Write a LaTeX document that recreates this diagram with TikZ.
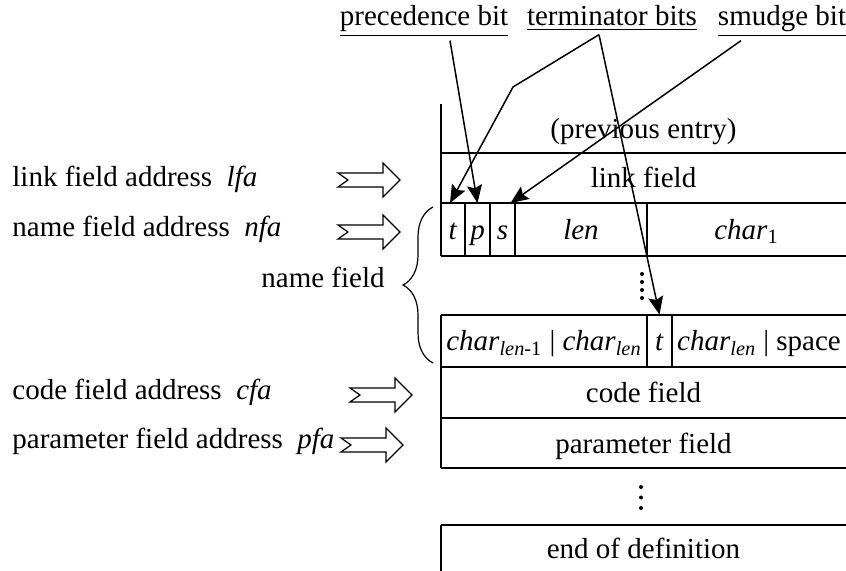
\documentclass[tikz,border=0pt]{standalone}
\usepackage{fontspec}
\setmainfont{Liberation Serif}
\usepackage{tikz}
\usetikzlibrary {arrows.meta}
\usetikzlibrary {decorations.pathreplacing}

\tikzset{
  every node/.style={font=\fontsize{14.5}{17}\selectfont},
  cell/.style={inner sep=0pt, text height=10pt, text depth=0pt},
  bitcell/.style={cell, minimum width=12pt, minimum height=26pt},
  toplabel/.style={inner sep=2pt, anchor=base},
  sidelabel/.style={inner sep=0pt, anchor=base west},
  pointer/.style={-{Stealth[length=9pt,width=7.5pt,inset=1.5pt]}, line width=0.75pt},
  gridline/.style={line width=0.6pt},
  addr/.pic={\draw[line width=0.6pt] (-62,-7) -- (-17,-7) -- (-17,-17) -- (0,0) -- (-17,17) -- (-17,7) -- (-62,7) -- (-52,0) -- cycle;}
}

\begin{document}
\begin{tikzpicture}[x=0.5pt, y=-0.5pt]
        \useasboundingbox (0,0) rectangle (846,571);
        % 上のラベル
        \node[toplabel] (prec) at (424,26) {\underline{precedence bit}};
        \node[toplabel] (term) at (612,26) {\underline{terminator bits}};
        \node[toplabel] (smudge) at (782,26) {\underline{smudge bit}};
        % 左のラベル
        \node[sidelabel] (lfa) at (12,187) {link field address\ \ \textit{lfa}};
        \node[sidelabel] (nfa) at (12,237) {name field address\ \ \textit{nfa}};
        \node[sidelabel] (cfa) at (12,400) {code field address\ \ \textit{cfa}};
        \node[sidelabel] (pfa) at (12,449) {parameter field address\ \ \textit{pfa}};
        \node[inner sep=0pt, anchor=base east] (namefield) at (385,288) {name field};
        \draw[line width=0.6pt, decorate, decoration={brace, amplitude=15pt}] (433,363) -- (433,207);
        \pic at (400,180) {addr};
        \pic at (400,232) {addr};
        \pic at (412,395) {addr};
        \pic at (403,445) {addr};
        % 上の枠
        \draw[gridline] (441,104) -- (441,256);
        \draw[gridline] (441,153) -- (846,153) (441,203) -- (846,203) (441,256) -- (846,256);
        \draw[gridline] (465,203) -- (465,256) (490,203) -- (490,256) (515,203) -- (515,256) (647,203) -- (647,256);
        % 中の枠
        \draw[gridline] (441,315) -- (441,468);
        \draw[gridline] (441,315) -- (846,315) (441,367) -- (846,367) (441,418) -- (846,418) (441,468) -- (846,468);
        \draw[gridline] (647,315) -- (647,367) (672,315) -- (672,367);
        % 下の枠
        \draw[gridline] (441,525) -- (441,571) (441,525) -- (846,525);
        % 欄の文字
        \node[cell] (prev) at (643.5,128.5) {(previous entry)};
        \node[cell] (link) at (643.5,178) {link field};
        \node[bitcell] (tcell) at (453,229.5) {\textit{t}};
        \node[bitcell] (pcell) at (477.5,229.5) {\textit{p}};
        \node[bitcell] (scell) at (502.5,229.5) {\textit{s}};
        \node[cell] (len) at (581,229.5) {\textit{len}};
        \node[cell] (charone) at (746.5,229.5) {\textit{char}\textsubscript{1}};
        \node[cell] (charlast) at (544,341) {\textit{char}\textsubscript{\textit{len}-1} | \textit{char}\textsubscript{\textit{len}}};
        \node[bitcell] (tend) at (659.5,341) {\textit{t}};
        \node[cell] (charspace) at (759,341) {\textit{char}\textsubscript{\textit{len}} | space};
        \node[cell] (code) at (643.5,392.5) {code field};
        \node[cell] (param) at (643.5,443) {parameter field};
        \node[cell] (enddef) at (643.5,548) {end of definition};
        % 点
        \foreach \y in {274,282,290,298} \fill (642,\y) circle (1pt);
        \foreach \y in {487,497.5,508} \fill (641,\y) circle (1pt);
        % 矢印
        \coordinate (termbend) at (513,87);
        \draw[pointer] ([xshift=13pt]prec.south) -- (pcell.north);
        \draw[pointer] ([xshift=-6.5pt]term.south) -- (termbend) -- ([xshift=-1.5pt]tcell.north);
        \draw[pointer] ([xshift=-6.5pt]term.south) -- (tend.north);
        \draw[pointer] ([xshift=-20.5pt]smudge.south) -- ([xshift=4pt]scell.north);
\end{tikzpicture}
\end{document}
